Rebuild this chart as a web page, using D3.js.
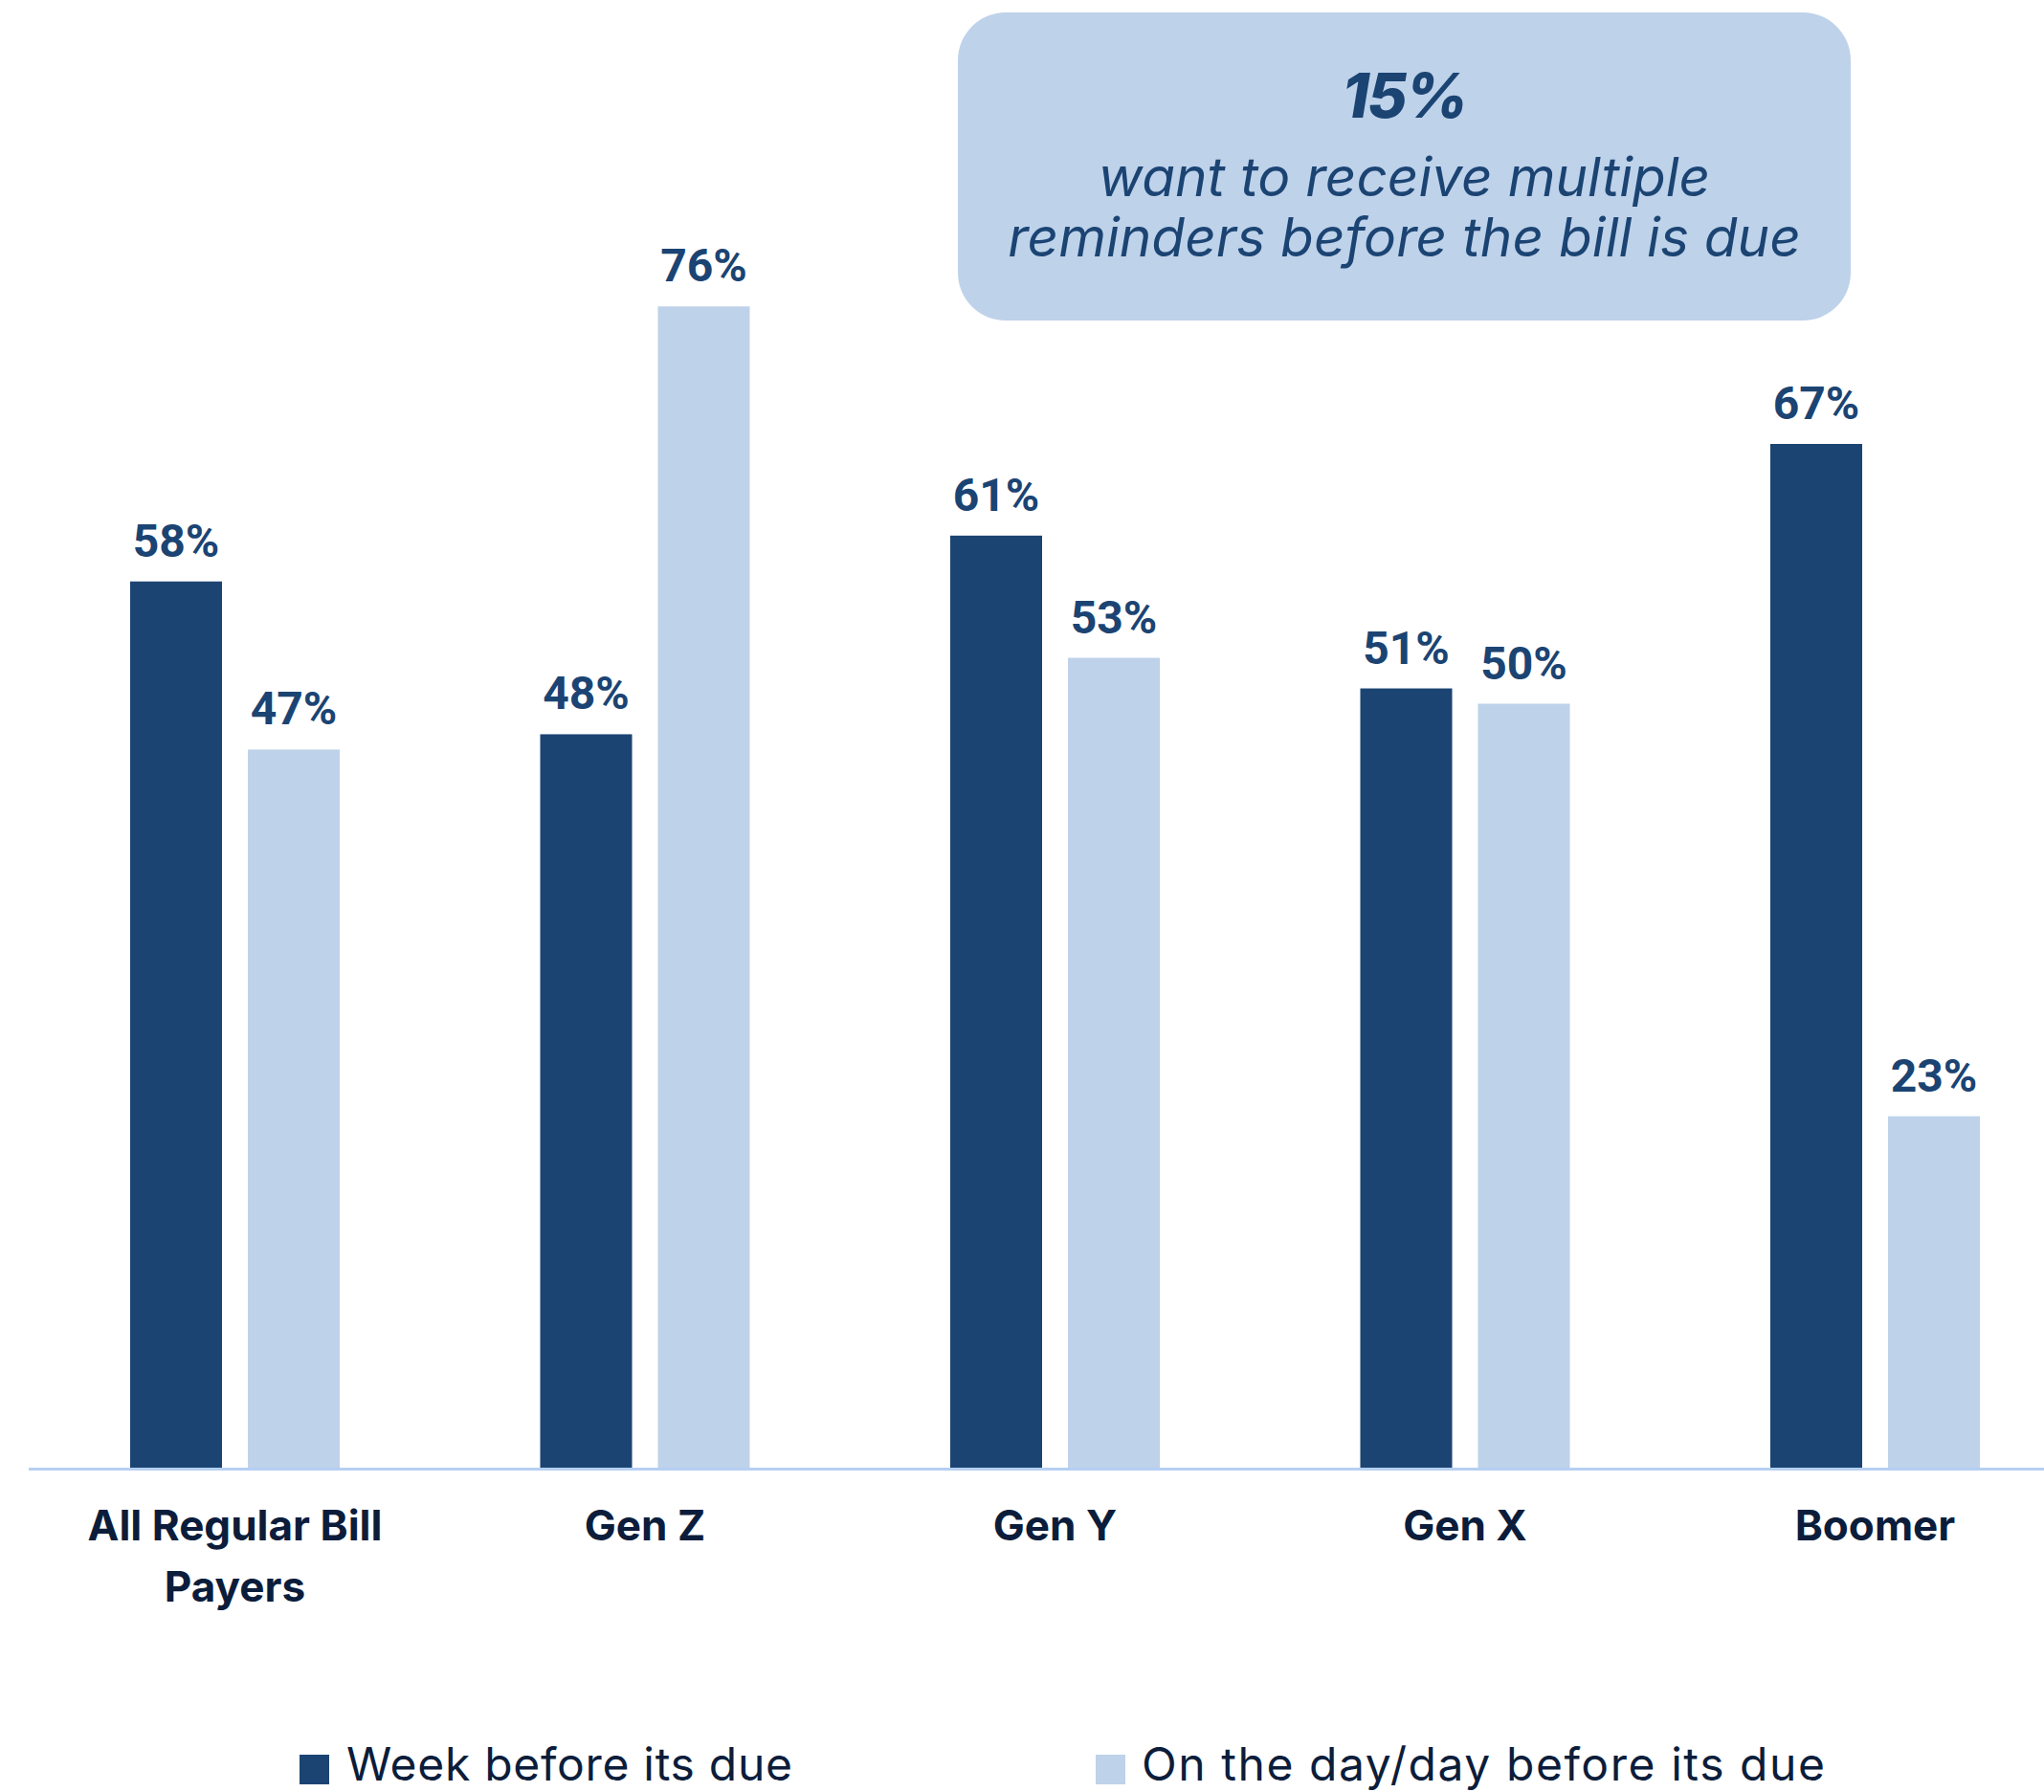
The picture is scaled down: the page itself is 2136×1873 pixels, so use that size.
<!DOCTYPE html>
<html>
<head>
<meta charset="utf-8">
<script src="https://cdn.jsdelivr.net/npm/d3@7"></script>
<style>
  html, body { margin: 0; padding: 0; background: #ffffff; }
  svg { display: block; }
</style>
</head>
<body>
<script>
// ---- data ----
const categories = ["All Regular Bill Payers", "Gen Z", "Gen Y", "Gen X", "Boomer"];
const categoryLines = [["All Regular Bill", "Payers"], ["Gen Z"], ["Gen Y"], ["Gen X"], ["Boomer"]];
const seriesNames = ["Week before its due", "On the day/day before its due"];
const weekBefore = [58, 48, 61, 51, 67];
const dayBefore = [47, 76, 53, 50, 23];
const calloutValue = "15%";
const calloutLines = ["want to receive multiple", "reminders before the bill is due"];

// ---- setup ----
const W = 2136, H = 1873;
const DARK = "#1b4473", LIGHT = "#bed2ea", NAVY = "#0c1d3b", AXIS = "#b6cff3";

const svg = d3.select("body").append("svg")
  .attr("width", W).attr("height", H)
  .attr("viewBox", `0 0 ${W} ${H}`);

const baseY = 1534;
const x0 = d3.scaleBand().domain(categories).range([31.25, 2173.75]).padding(0);
const half = 109.5;
const x1 = d3.scaleBand().domain(seriesNames)
  .range([x0.bandwidth() / 2 - half, x0.bandwidth() / 2 + half])
  .paddingInner(0.2195);
const y = d3.scaleLinear().domain([0, 100]).range([baseY, -63]);
const color = d3.scaleOrdinal().domain(seriesNames).range([DARK, LIGHT]);

const rows = categories.map((c, i) => ({
  cat: c,
  vals: [
    { s: seriesNames[0], v: weekBefore[i] },
    { s: seriesNames[1], v: dayBefore[i] }
  ]
}));

// scale a text's font-size so that its rendered width matches a target width
function fitSize(textSel, target) {
  const w = textSel.node().getComputedTextLength();
  const fs = parseFloat(textSel.attr("font-size"));
  return fs * target / w;
}

// ---- bars ----
const groups = svg.append("g").selectAll("g.grp")
  .data(rows).join("g")
  .attr("class", "grp")
  .attr("transform", d => `translate(${x0(d.cat)},0)`);

groups.selectAll("rect")
  .data(d => d.vals).join("rect")
  .attr("x", d => x1(d.s))
  .attr("y", d => y(d.v))
  .attr("width", x1.bandwidth())
  .attr("height", d => y(0) - y(d.v))
  .attr("fill", d => color(d.s));

groups.selectAll("text.val")
  .data(d => d.vals).join("text")
  .attr("class", "val")
  .attr("x", d => x1(d.s) + x1.bandwidth() / 2)
  .attr("y", d => y(d.v) - 26)
  .attr("text-anchor", "middle")
  .attr("font-family", "Roboto, 'Liberation Sans', sans-serif")
  .attr("font-weight", 700)
  .attr("font-size", 48)
  .attr("fill", DARK)
  .text(d => d.v + "%");

// ---- baseline ----
svg.append("line")
  .attr("x1", 30).attr("x2", W)
  .attr("y1", baseY + 1.5).attr("y2", baseY + 1.5)
  .attr("stroke", AXIS).attr("stroke-width", 3);

// ---- category labels ----
const catLabels = svg.append("g").selectAll("text")
  .data(categories).join("text")
  .attr("text-anchor", "middle")
  .attr("font-family", "Inter, 'Noto Sans', sans-serif")
  .attr("font-weight", 700)
  .attr("font-size", 40)
  .attr("fill", NAVY)
  .attr("x", d => x0(d) + x0.bandwidth() / 2)
  .attr("y", 1610);

catLabels.each(function (d, i) {
  const t = d3.select(this);
  categoryLines[i].forEach((line, j) => {
    t.append("tspan")
      .attr("x", x0(d) + x0.bandwidth() / 2)
      .attr("dy", j === 0 ? 0 : 64)
      .text(line);
  });
});
{
  const probe = svg.append("text")
    .attr("font-family", "Inter, 'Noto Sans', sans-serif")
    .attr("font-weight", 700).attr("font-size", 40)
    .text(categoryLines[0][0]);
  const fs = fitSize(probe, 308);
  probe.remove();
  catLabels.attr("font-size", fs);
}

// ---- legend ----
const legendItems = [
  { s: seriesNames[0], sx: 313, tx: 362, w: 466 },
  { s: seriesNames[1], sx: 1145, tx: 1193, w: 714 }
];
const legend = svg.append("g");
legend.selectAll("rect")
  .data(legendItems).join("rect")
  .attr("x", d => d.sx).attr("y", 1834)
  .attr("width", 31).attr("height", 31)
  .attr("fill", d => color(d.s));
const legTexts = legend.selectAll("text")
  .data(legendItems).join("text")
  .attr("x", d => d.tx).attr("y", 1861)
  .attr("font-family", "Inter, 'Noto Sans', sans-serif")
  .attr("font-weight", 400)
  .attr("font-size", 48)
  .attr("fill", NAVY)
  .text(d => d.s);
// open up the tracking so each legend entry spans its full width
legTexts.each(function (d) {
  const t = d3.select(this);
  const w = t.node().getComputedTextLength();
  const extra = (d.w - w) / Math.max(1, d.s.length - 1);
  if (extra > 0) t.attr("letter-spacing", extra);
});

// ---- callout box ----
const box = { x: 1001, y: 13, w: 933, h: 322 };
const cx = box.x + box.w / 2;
svg.append("rect")
  .attr("x", box.x).attr("y", box.y)
  .attr("width", box.w).attr("height", box.h)
  .attr("rx", 50).attr("ry", 50)
  .attr("fill", LIGHT);

svg.append("text")
  .attr("x", cx).attr("y", 123)
  .attr("text-anchor", "middle")
  .attr("font-family", "Inter, 'Noto Sans', sans-serif")
  .attr("font-weight", 800)
  .attr("font-style", "italic")
  .attr("font-size", 64)
  .attr("letter-spacing", -2)
  .attr("fill", DARK)
  .text(calloutValue);

const sub = svg.append("g").selectAll("text")
  .data(calloutLines).join("text")
  .attr("x", cx)
  .attr("y", (d, i) => 205 + i * 63)
  .attr("text-anchor", "middle")
  .attr("font-family", "Inter, 'Noto Sans', sans-serif")
  .attr("font-weight", 400)
  .attr("font-style", "italic")
  .attr("font-size", 52)
  .attr("fill", DARK)
  .text(d => d);
{
  const longest = sub.filter((d, i) => i === 1);
  sub.attr("font-size", fitSize(longest, 829));
}
</script>
</body>
</html>
